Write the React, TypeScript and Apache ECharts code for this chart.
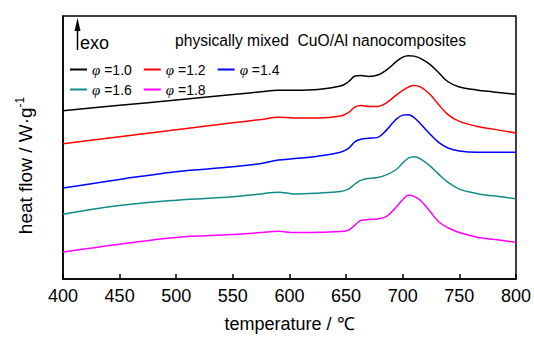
import React, { useEffect, useRef } from "react";
import * as echarts from "echarts";

const temps = [400, 450, 500, 550, 575, 590, 605, 625, 645, 652, 658, 663, 670, 678, 686, 694, 700, 705, 710, 716, 724, 732, 740, 750, 765, 780, 800];

const phi10 = [174, 179.6, 185.2, 190.8, 193.6, 195.3, 195.3, 196, 199.5, 204, 210, 210.5, 209.5, 211, 216.5, 224.5, 229.5, 231, 230.5, 228, 222, 213, 204, 198.5, 195.5, 193.5, 191];
const phi12 = [140, 147.2, 154.4, 161.5, 165, 167.3, 166.5, 166.5, 168.5, 172, 178, 179.5, 178.5, 178.5, 182.5, 190, 195, 198.5, 200, 198.5, 191, 180, 170, 163, 158, 155, 151];
const phi14 = [94, 103, 111, 116, 119.5, 123, 124.5, 127, 131, 135, 142, 144.5, 145.5, 146.5, 154.5, 165, 169.5, 170, 167, 160, 150, 141, 135.5, 132.5, 131, 131, 131];
const phi16 = [67, 76, 81.5, 85, 88, 89.8, 88, 88.8, 90.5, 93, 98.5, 102, 104, 105, 108, 113, 120, 125, 126.5, 124, 117, 108, 100, 93, 88.5, 86, 83];
const phi18 = [28, 36, 43, 46, 48, 49.3, 48, 48.3, 49, 50.5, 56, 60.5, 61.5, 62, 65, 74, 82, 86.5, 85.5, 81, 70, 59, 53, 48, 43.5, 41, 38];

const seriesNames = ["1.0", "1.2", "1.4", "1.6", "1.8"];
const seriesColors = ["#000000", "#ff0000", "#0000ff", "#138a8a", "#ff00ff"];
const seriesValues = [phi10, phi12, phi14, phi16, phi18];

const xTicks = { min: 400, max: 800, interval: 50 };
const FONT = "Liberation Sans, Arial, sans-serif";

export default function App() {
  const ref = useRef<HTMLDivElement>(null);
  useEffect(() => {
    if (!ref.current) return;
    const chart = echarts.init(ref.current, undefined, { renderer: "svg" });
    const legendCommon = {
      left: 70,
      padding: 0,
      itemWidth: 17,
      itemHeight: 2,
      itemGap: 12,
      icon: "rect",
      formatter: (name: string) => "{i|φ} =" + name,
      textStyle: {
        fontFamily: FONT,
        fontSize: 14,
        color: "#000",
        rich: {
          i: { fontFamily: "Liberation Serif, serif", fontStyle: "italic", fontSize: 15, color: "#000" },
        },
      },
    };
    chart.setOption({
      animation: false,
      grid: { left: 63, right: 17, top: 16, bottom: 50, show: true, borderColor: "#000", borderWidth: 1.5 },
      legend: [
        { ...legendCommon, top: 62, data: seriesNames.slice(0, 3) },
        { ...legendCommon, top: 82, data: seriesNames.slice(3) },
      ],
      xAxis: {
        type: "value",
        min: xTicks.min,
        max: xTicks.max,
        interval: xTicks.interval,
        name: "temperature / ℃",
        nameLocation: "middle",
        nameGap: 36,
        nameTextStyle: { fontFamily: FONT, fontSize: 18, color: "#000" },
        axisLine: { lineStyle: { color: "#000", width: 1.5 } },
        axisTick: { inside: true, length: 5, lineStyle: { color: "#000", width: 1.5 } },
        axisLabel: { fontFamily: FONT, fontSize: 18, color: "#000", margin: 8 },
        splitLine: { show: false },
      },
      yAxis: {
        type: "value",
        min: 0,
        max: 272,
        name: "{a|heat flow / W·g}{s|-1}",
        nameLocation: "middle",
        nameRotate: 90,
        nameGap: 27,
        nameTextStyle: {
          fontFamily: FONT,
          color: "#000",
          padding: [0, 0, 0, -36],
          rich: {
            a: { fontFamily: FONT, fontSize: 19, color: "#000", lineHeight: 22 },
            s: { fontFamily: FONT, fontSize: 12, color: "#000", lineHeight: 22, verticalAlign: "top", padding: [0, 0, 8, 0] },
          },
        },
        axisLine: { lineStyle: { color: "#000", width: 1.5 } },
        axisTick: { show: false },
        axisLabel: { show: false },
        splitLine: { show: false },
      },
      graphic: [
        { type: "line", shape: { x1: 77.5, y1: 50, x2: 77.5, y2: 26 }, style: { stroke: "#000", lineWidth: 1.5 } },
        { type: "polygon", shape: { points: [[74.5, 31], [77.5, 18], [80.5, 31]] }, style: { fill: "#000" } },
        { type: "text", x: 80, y: 43, style: { text: "exo", fontFamily: FONT, fontSize: 18, fill: "#000", textVerticalAlign: "middle" } },
        {
          type: "text",
          x: 175,
          y: 40,
          scaleX: 0.92,
          style: { text: "physically mixed  CuO/Al nanocomposites", fontFamily: FONT, fontSize: 17, fill: "#000", textVerticalAlign: "middle" },
        },
      ],
      series: seriesNames.map((n, i) => ({
        name: n,
        type: "line",
        data: temps.map((t, j) => [t, seriesValues[i][j]]),
        showSymbol: false,
        smooth: 0.4,
        color: seriesColors[i],
        lineStyle: { color: seriesColors[i], width: 1.5 },
      })),
    });
    return () => chart.dispose();
  }, []);
  return <div ref={ref} style={{ width: 534, height: 338, position: "absolute", left: 0, top: 0 }} />;
}
